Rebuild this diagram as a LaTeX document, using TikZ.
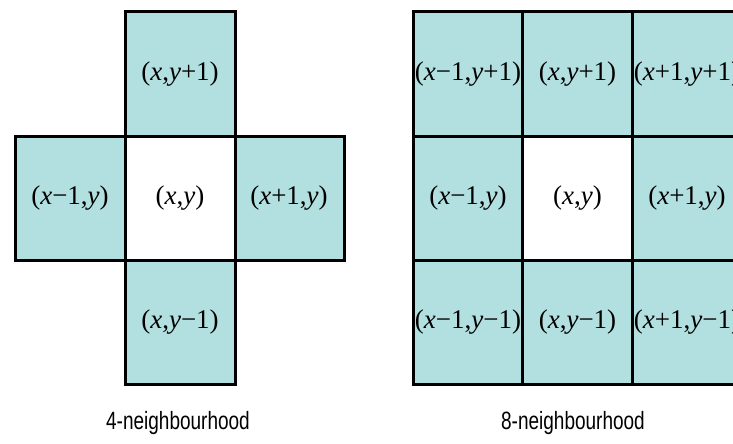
\documentclass[tikz,border=0pt]{standalone}
\usepackage{fontspec}
\setmainfont{Liberation Serif}
\newfontfamily\capfont{Liberation Sans}
\definecolor{cellfill}{RGB}{178,223,223}
\begin{document}
\begin{tikzpicture}[x=1pt,y=-1pt,
  cell/.style={draw=black, line width=3pt, fill=cellfill, minimum width=110pt, minimum height=124pt, inner sep=0pt, font=\fontsize{27}{30}\selectfont},
  centre/.style={cell, fill=white},
  caption/.style={font=\capfont\fontsize{25}{28}\selectfont, xscale=0.76, inner sep=0pt}]
\useasboundingbox (0,0) rectangle (733,444);
\clip (0,0) rectangle (733,444);
% 4-neighbourhood
\node[cell]   (Lt) at (180,74)  {(\textit{x},\textit{y}+1)};
\node[cell]   (Ll) at (70,198)  {(\textit{x}−1,\textit{y})};
\node[cell]   (Lr) at (289,198) {(\textit{x}+1,\textit{y})};
\node[cell]   (Lb) at (180,322) {(\textit{x},\textit{y}−1)};
\node[centre] (Lc) at (180,198) {(\textit{x},\textit{y})};
\node[caption] (Lcap) at (178,423) {4-neighbourhood};
% 8-neighbourhood
\node[cell]   (R11) at (468,74)  {(\textit{x}−1,\textit{y}+1)};
\node[cell]   (R12) at (577.5,74) {(\textit{x},\textit{y}+1)};
\node[cell]   (R13) at (687,74)  {(\textit{x}+1,\textit{y}+1)};
\node[cell]   (R21) at (468,198) {(\textit{x}−1,\textit{y})};
\node[centre] (R22) at (577.5,198) {(\textit{x},\textit{y})};
\node[cell]   (R23) at (687,198) {(\textit{x}+1,\textit{y})};
\node[cell]   (R31) at (468,322) {(\textit{x}−1,\textit{y}−1)};
\node[cell]   (R32) at (577.5,322) {(\textit{x},\textit{y}−1)};
\node[cell]   (R33) at (687,322) {(\textit{x}+1,\textit{y}−1)};
\node[caption] (Rcap) at (573,423) {8-neighbourhood};
\end{tikzpicture}
\end{document}
